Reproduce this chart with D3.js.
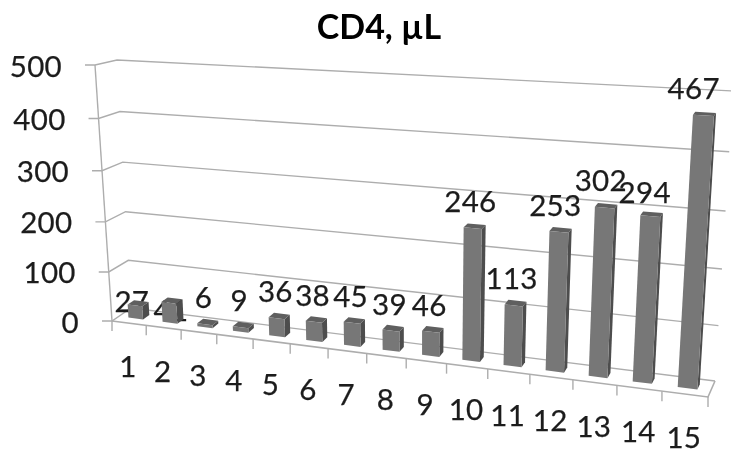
<!DOCTYPE html>
<html><head><meta charset="utf-8">
<script src="https://cdn.jsdelivr.net/npm/d3@7"></script>
<style>
html,body{margin:0;padding:0;background:#fff}
svg{display:block;filter:blur(.55px)}
text{font-family:Lato,"Open Sans",sans-serif;fill:#1c1c1c;stroke:#1c1c1c;stroke-width:.25px;letter-spacing:.3px}
</style></head><body>
<script>
const categories=["1","2","3","4","5","6","7","8","9","10","11","12","13","14","15"];
const values=[27,41,6,9,36,38,45,39,46,246,113,253,302,294,467];
const valueTicks=[0,100,200,300,400,500];
const titleText="CD4, µL";
const labelNudge={"1":[-2,23],"2":[3,34],"13":[1,-1],"14":[0,3]};

const W=731,H=450;
// Perspective frame of the 3-D box: [cat 0 val 0],[cat 1 val 0],[cat 1 val 1],[cat 0 val 1]
const frontQuad=[[112,321],[708,397],[727,99],[95,65]];
const backQuad=[[131,308],[715,381],[733,91],[117,60]];

function homography(q){
  const [[x0,y0],[x1,y1],[x2,y2],[x3,y3]]=q;
  const dx1=x1-x2,dx2=x3-x2,sx=x0-x1+x2-x3,dy1=y1-y2,dy2=y3-y2,sy=y0-y1+y2-y3;
  const d=dx1*dy2-dx2*dy1;
  const g=(sx*dy2-dx2*sy)/d,h=(dx1*sy-sx*dy1)/d;
  const a=x1-x0+g*x1,b=x3-x0+h*x3,c=x0,e=y1-y0+g*y1,f=y3-y0+h*y3,k=y0;
  return (u,v)=>{const w=g*u+h*v+1;return [(a*u+b*v+c)/w,(e*u+f*v+k)/w];};
}
const front=homography(frontQuad),back=homography(backQuad);
const xBand=d3.scaleBand(categories,[0,1]).paddingInner(.57).paddingOuter(.285);
const yVal=d3.scaleLinear([0,500],[0,1]);
function P(u,val,z){
  const a=front(u,yVal(val)),b=back(u,yVal(val));
  return [a[0]+(b[0]-a[0])*z,a[1]+(b[1]-a[1])*z];
}
const line=d3.line();
const svg=d3.select("body").append("svg").attr("width",W).attr("height",H);

const gridColor="#adadad";
svg.append("g").selectAll("path").data(valueTicks).join("path")
  .attr("d",v=>line([[P(0,v,0)[0]-10,P(0,v,0)[1]],P(0,v,0),P(0,v,1),P(1,v,1)]))
  .attr("fill","none").attr("stroke",gridColor).attr("stroke-width",1.4);
svg.append("path").attr("d",line([P(0,500,0),P(0,0,0)])).attr("stroke",gridColor).attr("stroke-width",1.4).attr("fill","none");
svg.append("path").attr("d",line([P(0,0,0),P(1,0,0),P(1,0,1)])).attr("stroke",gridColor).attr("stroke-width",1.6).attr("fill","none");
const tickPos=d3.range(categories.length+1).map(i=>i/categories.length);
svg.append("g").selectAll("path").data(tickPos).join("path")
  .attr("d",u=>{const p=P(u,0,0);return line([p,[p[0],p[1]+10]]);})
  .attr("stroke",gridColor).attr("stroke-width",1.4);

svg.append("g").selectAll("text").data(valueTicks).join("text")
  .attr("x",v=>P(0,v,0)[0]-33).attr("y",v=>P(0,v,0)[1]+11.5)
  .attr("text-anchor","end").attr("font-size",29.5).text(d=>d);
svg.append("g").selectAll("text").data(categories).join("text")
  .attr("x",c=>P(xBand(c)+xBand.bandwidth()/2,0,0)[0]-1)
  .attr("y",c=>P(xBand(c)+xBand.bandwidth()/2,0,0)[1]+54)
  .attr("text-anchor","middle").attr("font-size",29.5).text(d=>d);

svg.append("text").attr("x",379).attr("y",39).attr("text-anchor","middle")
  .attr("font-size",34).attr("font-weight",700)
  .style("fill","#000").style("stroke","none").style("letter-spacing","0").text(titleText);

const zF=.36,zB=.7;
const mid=c=>xBand(c)+xBand.bandwidth()/2;
svg.append("g").selectAll("text").data(categories).join("text")
  .attr("x",(c,i)=>P(mid(c),values[i]/2,zF)[0]-1.5+(labelNudge[c]||[0,0])[0])
  .attr("y",(c,i)=>P(mid(c),values[i],zF)[1]-16+(labelNudge[c]||[0,0])[1])
  .attr("text-anchor","middle").attr("font-size",29.5).text((c,i)=>values[i]);

const bars=svg.append("g").selectAll("g").data(categories).join("g");
bars.each(function(c,i){
  const g=d3.select(this),v=values[i],u0=xBand(c),u1=u0+xBand.bandwidth();
  g.append("path").attr("fill","#4d4d4d").attr("d",line([P(u1,0,zF),P(u1,0,zB),P(u1,v,zB),P(u1,v,zF)])+"Z");
  g.append("path").attr("fill","#5f5f5f").attr("d",line([P(u0,v,zF),P(u1,v,zF),P(u1,v,zB),P(u0,v,zB)])+"Z");
  g.append("path").attr("fill","#777777").attr("d",line([P(u0,0,zF),P(u1,0,zF),P(u1,v,zF),P(u0,v,zF)])+"Z");
});
</script>
</body></html>
